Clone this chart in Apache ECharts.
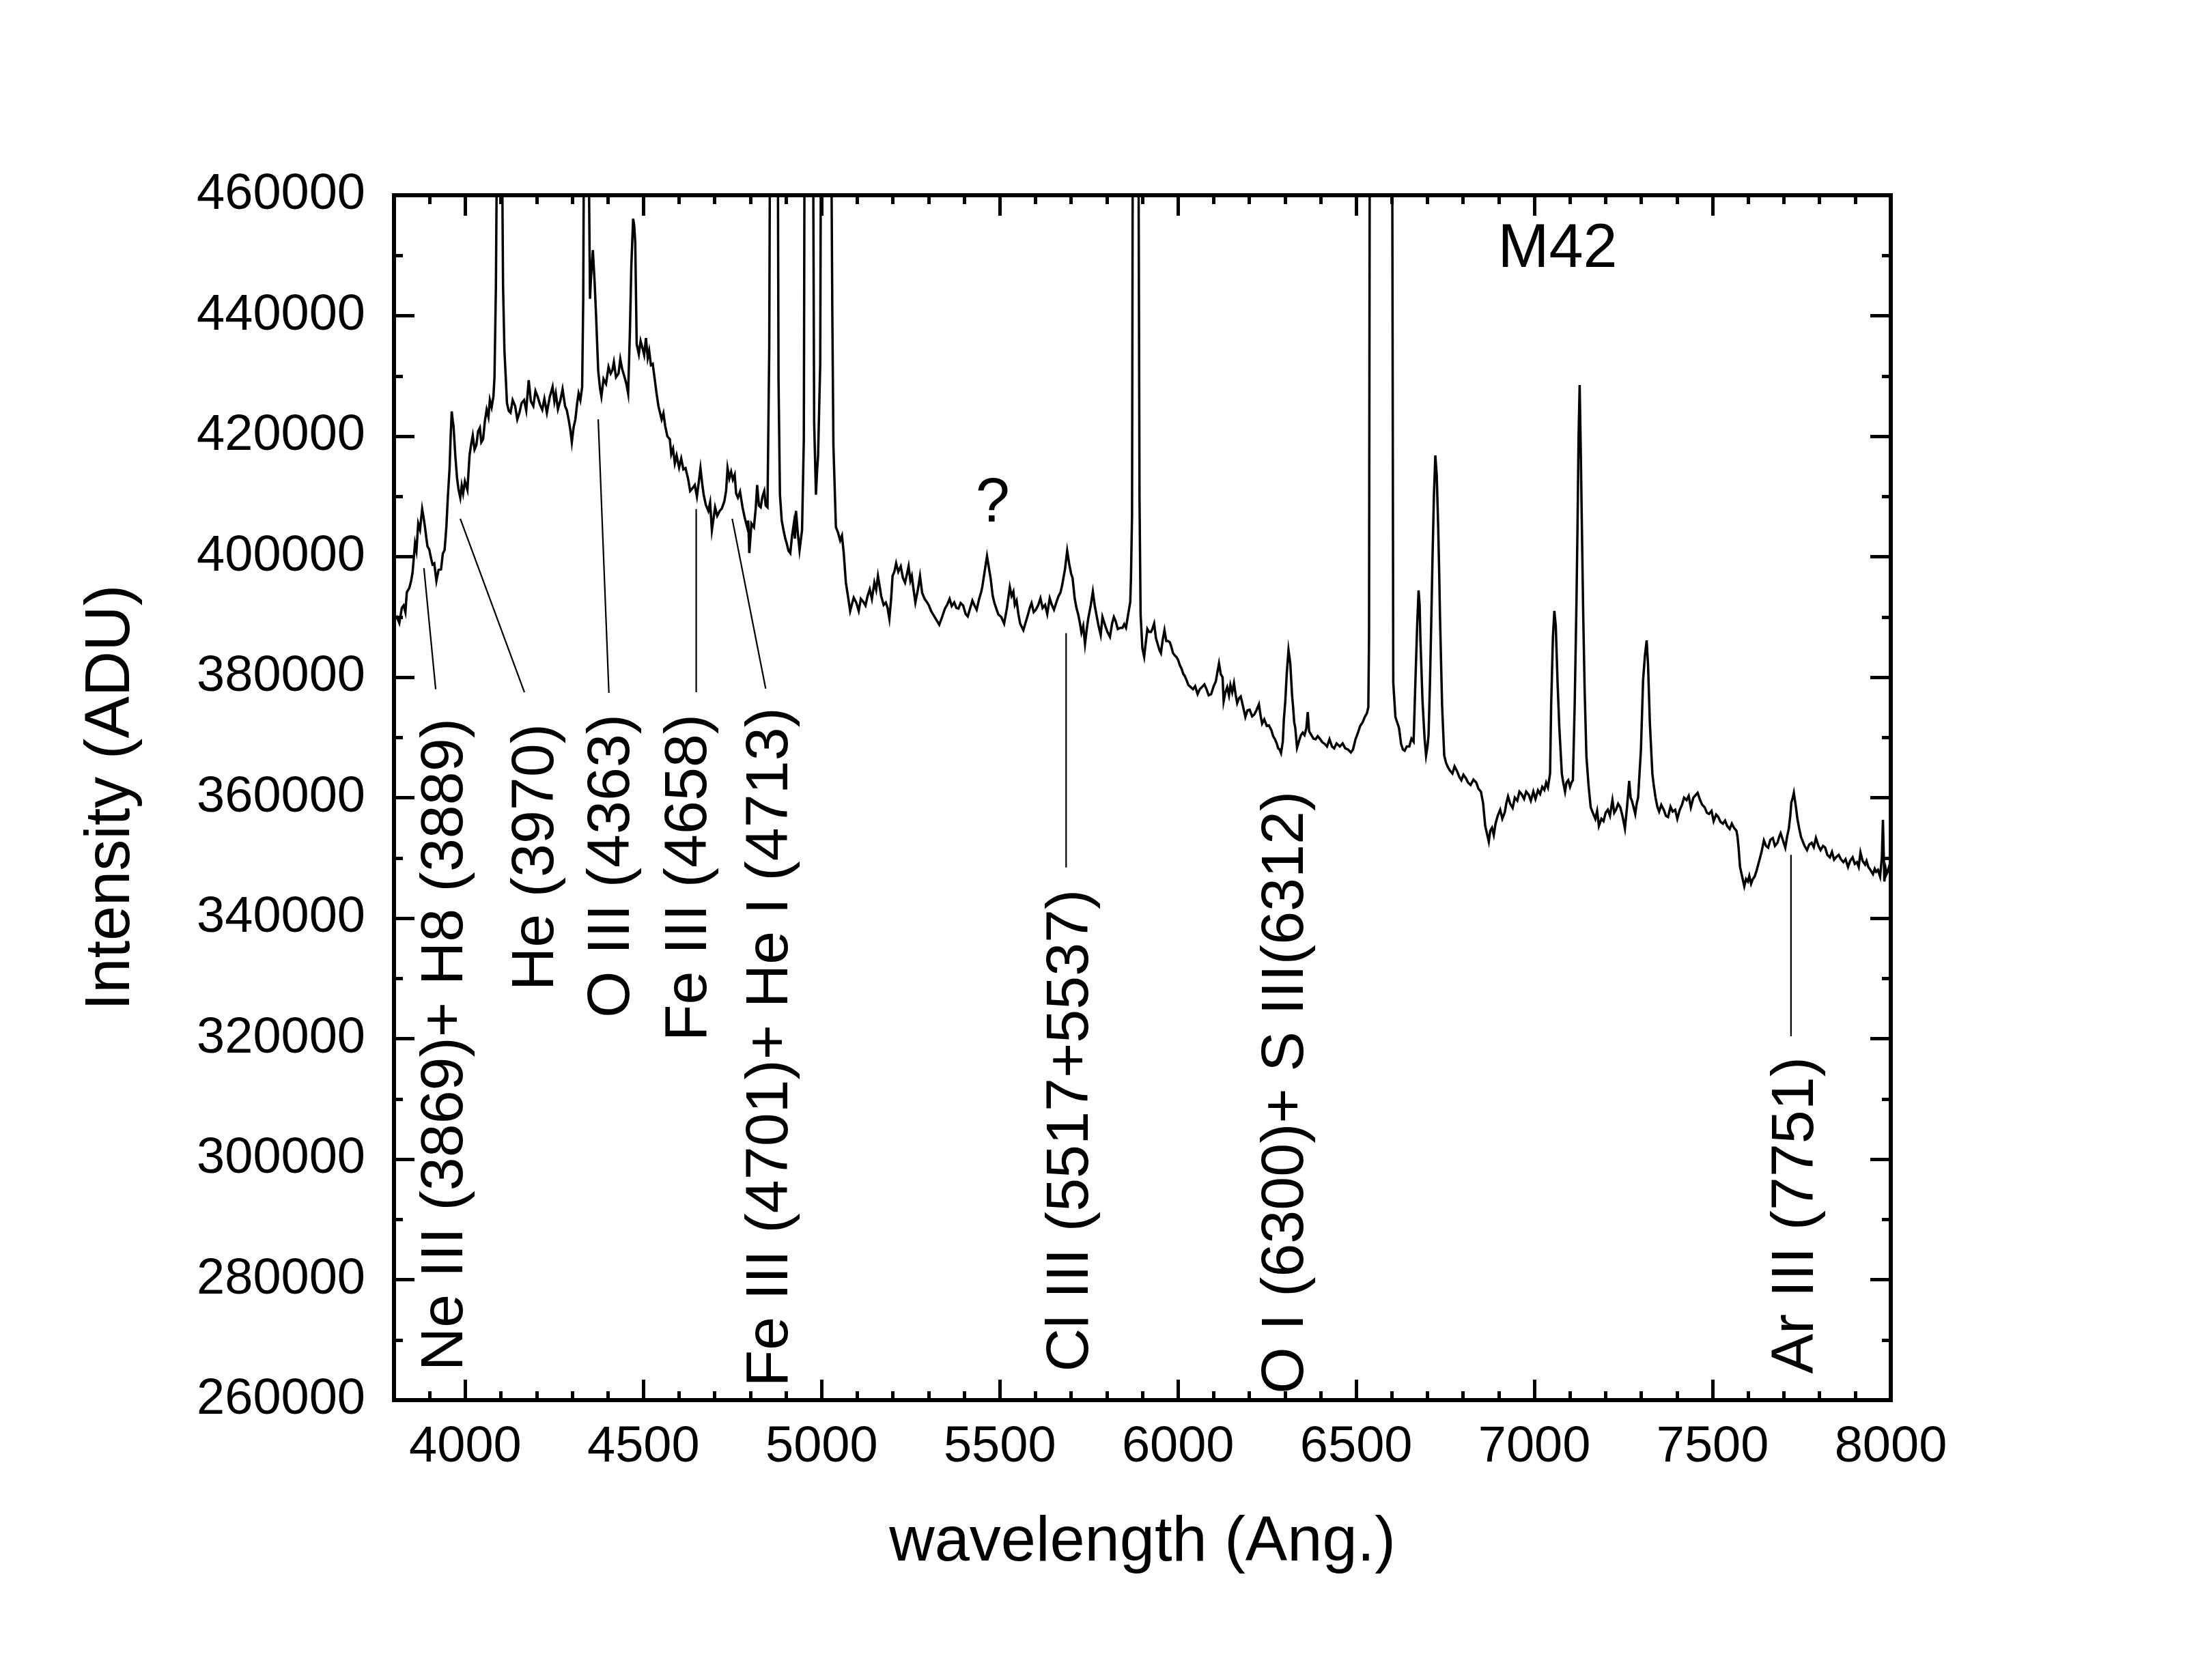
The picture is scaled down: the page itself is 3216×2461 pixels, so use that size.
<!DOCTYPE html>
<html>
<head>
<meta charset="utf-8">
<script src="https://cdn.jsdelivr.net/npm/echarts@6/dist/echarts.min.js"></script>
<style>
html,body{margin:0;padding:0;background:#fff;}
#chart{width:3216px;height:2461px;}
</style>
</head>
<body>
<div id="chart"></div>
<script>
// ---------- DATA ----------
const wavelength = [
3800,3808,3815,3822,3827,3832,3836,3843,3848,3852,3859,3863,3868,3873,3879,3883,3887,3891,3894,3899,
3903,3908,3913,3919,3925,3932,3937,3942,3947,3951,3956,3959,3962,3965,3967,3972,3977,3981,3986,3990,
3994,3999,4006,4012,4016,4021,4026,4031,4036,4041,4045,4050,4055,4060,4065,4069,4074,4079,4082,4086,
4089,4096,4103,4106,4110,4114,4117,4122,4127,4133,4140,4146,4152,4158,4165,4171,4178,4184,4191,4197,
4203,4210,4216,4222,4229,4237,4245,4250,4254,4260,4267,4273,4280,4285,4290,4295,4299,4304,4309,4314,
4318,4323,4328,4331,4333,4340,4346,4350,4353,4358,4363,4367,4373,4378,4382,4388,4395,4402,4408,4413,
4417,4423,4430,4435,4440,4446,4452,4457,4462,4466,4471,4474,4477,4481,4487,4492,4497,4502,4507,4512,
4516,4521,4526,4532,4537,4542,4546,4551,4556,4561,4567,4574,4578,4583,4588,4593,4600,4606,4612,4618,
4625,4631,4638,4644,4650,4655,4660,4665,4669,4675,4682,4687,4692,4697,4701,4707,4714,4720,4727,4732,
4736,4741,4746,4751,4756,4760,4765,4771,4778,4784,4791,4794,4797,4803,4810,4815,4819,4824,4829,4834,
4839,4843,4848,4853,4855,4866,4877,4879,4883,4888,4893,4898,4902,4907,4912,4917,4922,4925,4928,4933,
4938,4942,4945,4950,4952,4964,4976,4979,4984,4987,4990,4996,4998,5012,5027,5030,5033,5040,5046,5052,
5057,5062,5068,5075,5080,5084,5090,5097,5104,5110,5117,5123,5129,5135,5141,5148,5153,5158,5163,5167,
5174,5180,5185,5190,5195,5199,5204,5209,5215,5222,5228,5234,5239,5244,5249,5253,5258,5263,5270,5276,
5282,5289,5295,5301,5307,5314,5322,5330,5338,5346,5352,5359,5365,5372,5378,5384,5390,5397,5404,5410,
5417,5423,5429,5435,5442,5448,5451,5458,5464,5470,5474,5480,5485,5490,5496,5504,5512,5520,5528,5533,
5538,5542,5547,5552,5557,5566,5572,5579,5584,5589,5595,5601,5608,5614,5620,5627,5633,5640,5646,5652,
5659,5665,5670,5675,5683,5689,5695,5700,5704,5710,5715,5720,5725,5729,5734,5739,5744,5748,5755,5761,
5766,5771,5777,5783,5788,5796,5802,5809,5815,5820,5825,5831,5838,5844,5849,5854,5860,5866,5868,5871,
5873,5881,5889,5892,5895,5900,5905,5910,5914,5919,5924,5928,5933,5938,5943,5948,5952,5957,5962,5967,
5972,5977,5981,5986,5991,5996,6000,6005,6010,6015,6019,6024,6029,6035,6042,6048,6055,6061,6067,6074,
6080,6086,6093,6100,6106,6111,6115,6120,6125,6128,6133,6138,6143,6147,6152,6157,6162,6166,6171,6176,
6183,6189,6195,6201,6208,6214,6220,6227,6232,6236,6242,6249,6255,6262,6267,6272,6277,6281,6285,6289,
6294,6297,6301,6305,6310,6315,6320,6323,6326,6329,6334,6340,6345,6350,6355,6360,6364,6368,6374,6380,
6386,6392,6399,6405,6412,6418,6425,6432,6438,6445,6454,6462,6469,6477,6485,6491,6498,6505,6511,6518,
6524,6530,6534,6536,6538,6565,6601,6604,6610,6615,6620,6626,6631,6636,6642,6649,6655,6661,6666,6671,
6675,6678,6680,6686,6692,6696,6700,6703,6707,6711,6714,6718,6722,6726,6730,6733,6735,6741,6747,6752,
6757,6763,6770,6776,6783,6789,6795,6801,6808,6814,6821,6829,6837,6843,6850,6856,6862,6867,6872,6876,
6881,6886,6891,6897,6904,6910,6917,6921,6926,6932,6939,6945,6952,6958,6964,6971,6977,6984,6990,6997,
7003,7010,7016,7022,7028,7033,7038,7044,7047,7052,7056,7060,7065,7070,7077,7081,7086,7090,7095,7100,
7104,7108,7113,7118,7121,7124,7127,7130,7134,7137,7141,7146,7152,7158,7164,7171,7176,7181,7188,7194,
7200,7206,7212,7219,7224,7229,7235,7241,7247,7254,7260,7266,7270,7273,7278,7283,7287,7291,7295,7299,
7305,7310,7315,7319,7324,7331,7335,7340,7345,7350,7356,7363,7369,7375,7382,7388,7395,7401,7408,7414,
7420,7427,7433,7439,7446,7452,7458,7465,7471,7478,7484,7490,7497,7503,7510,7516,7522,7529,7535,7541,
7548,7554,7560,7567,7570,7573,7577,7583,7589,7594,7599,7603,7608,7613,7618,7623,7628,7633,7637,7644,
7650,7656,7662,7669,7675,7682,7687,7691,7697,7704,7709,7714,7718,7721,7725,7728,7734,7738,7743,7748,
7752,7758,7765,7771,7778,7784,7790,7797,7803,7810,7816,7822,7829,7835,7841,7848,7854,7860,7867,7873,
7880,7886,7893,7899,7905,7910,7915,7921,7928,7932,7937,7943,7950,7955,7959,7964,7970,7975,7978,7980,
7982,7986,7988,7991,7995,8000
];
const intensity = [
389500,390000,389000,391500,391900,390800,394100,394800,396000,397300,402200,401000,405500,404500,407900,406500,404900,403000,401700,401200,
400000,398700,398900,396000,397800,397900,400500,401100,405000,409800,414700,420000,424100,422500,421700,416800,413000,411200,409800,411800,
410500,412500,411100,416800,418500,420100,417800,418500,420800,421400,419000,419500,422500,424400,423200,426000,424800,426600,429800,445000,
470000,495000,470000,445000,434000,429300,425500,424200,423900,426000,425000,422800,423900,425500,426000,424300,429300,425800,425000,427500,
426600,425200,424400,426200,423900,426500,428200,425800,427100,424500,426000,427800,425000,424300,422800,421000,419000,421500,422800,425500,
427100,426000,428200,442800,470000,520000,470000,442800,446600,450900,445500,440100,430900,428000,426600,429500,428700,431500,430400,431000,
432300,429800,430400,432800,431200,430000,428700,427100,437400,448300,456100,455000,452100,435300,433600,435800,434700,433500,436300,433000,
434200,431800,432000,429300,427000,425000,424000,422800,423800,421700,420000,419500,417000,417900,415500,416800,414800,416300,414500,414700,
413000,410900,411400,411900,410000,412300,414700,412000,410300,408600,407600,409000,404400,406500,408200,406800,407600,408000,409200,411000,
414700,413000,414100,412800,413600,410500,409800,410800,408200,406500,404900,406000,400600,405500,404900,408000,411900,408500,408200,410000,
410900,408500,408200,434700,470000,700000,470000,429300,410300,406000,404400,403000,402200,401000,400600,403500,405500,403000,407600,404000,
401100,403000,404400,419500,470000,900000,470000,422200,410300,414000,416800,432000,470000,1500000,470000,440100,418500,404900,404000,402700,
403500,400600,395700,393000,391000,391900,393200,392400,391000,393000,392500,391900,393500,394600,393000,395700,394500,396800,395000,393500,
392000,392400,391500,389700,393000,396800,397500,398900,397500,398400,396500,395700,397000,398400,396000,396800,394500,392400,394500,396800,
394000,393000,392500,391900,391000,390300,389500,388700,390000,391400,392000,393000,391800,392400,391500,391400,392300,391900,390500,390100,
391500,392700,391900,391200,393000,394200,395100,397800,400100,397900,396500,393500,392300,391400,390400,390000,388900,391500,394960,393500,
394200,392000,392700,390500,388900,387800,389000,390400,391500,392300,390800,391200,392000,393100,391500,392000,390500,393100,392000,391200,
392500,393500,394000,395300,398000,401000,398700,397200,396500,393100,391500,390400,388900,387400,388500,385500,388000,389700,391900,394200,
392000,390400,388500,387000,390000,388500,387500,386700,388900,390000,389300,388000,388200,388200,388800,388200,390400,392500,396500,407000,
470000,800000,470000,409300,390400,384800,383400,386000,388000,387500,387500,388000,388900,386500,385500,384500,384000,386200,387800,386000,
386000,385800,385100,384000,383600,383300,382900,382000,381400,380500,380200,379500,378700,378400,378000,378500,377200,378000,378350,378800,
378000,377000,377200,378500,379300,381000,382300,380500,380000,376000,377500,378350,377000,378700,377500,379000,377000,375700,376500,376800,
375000,373400,374500,374600,373500,373800,374500,375500,373500,372300,373000,371900,372000,371200,370200,369700,369000,368200,368000,367400,
369300,373000,376000,380500,384500,382300,377000,375000,372500,371600,368300,369500,370400,370800,370400,371500,374200,371000,370400,369800,
369700,370200,369700,369200,368900,368500,369700,368500,368200,369000,368500,369000,368200,368000,367500,368000,369700,370800,371900,372500,
373400,374000,375000,386700,470000,2500000,470000,379100,373400,372500,371600,368900,368000,367800,368500,368500,369800,369300,379100,388500,
394400,392000,386700,376100,369700,367000,368500,370400,379100,390400,399500,410000,416800,413500,405000,397000,390400,375300,367000,365800,
365100,364500,364000,365200,364400,363500,362900,363800,363200,362500,362100,363000,362500,361500,361000,359100,355300,354000,352700,354500,
355000,353800,355700,357000,358000,356500,357600,359000,360200,359000,358300,360000,359500,361000,360600,359800,361000,360500,359500,361000,
359800,361200,360600,361800,361300,362500,361700,364000,375300,386700,391000,388500,379100,371600,364000,362500,361000,362500,362900,361800,
362500,362900,375300,392300,405000,420000,428500,418000,402000,390400,377900,366800,362000,358400,357500,356500,357800,355300,356500,356100,
357500,358000,357000,359600,357500,358000,359000,358400,357000,354900,358500,362800,360000,359600,358500,357300,359000,360000,364000,368000,
379500,383500,386100,381900,372400,364000,362000,360000,358500,357700,358800,358000,357000,356800,358500,357700,358000,356500,358000,358800,
360000,359600,360300,358400,360000,360400,360800,359600,358800,358400,357500,357300,357800,356100,357200,356800,356000,355700,356200,355300,
354800,355700,355000,354500,353500,351700,348500,346900,345300,346500,346100,347000,345700,346500,346900,347800,348900,350000,350900,352900,
352000,351700,353000,353300,352000,352500,353500,354100,353000,351700,353500,354900,357000,359200,360000,360800,358400,356500,354900,353500,
352900,352000,351300,352200,352500,351800,353300,352000,351300,352000,351700,350500,350100,351000,349700,350200,350500,349800,349300,349800,
348500,349500,350100,349000,349300,348500,350900,349500,348900,349500,348500,348000,347300,348200,347700,348000,346900,350100,356300,356300,
346100,348000,347300,347700,348500,347500
];

// tick values
const xMajorTicks = [4000, 4500, 5000, 5500, 6000, 6500, 7000, 7500, 8000];
const yMin = 260000, yMax = 460000, yStep = 20000;
const xMin = 3800, xMax = 8000, xMinorStep = 100;

// line annotations (text, wavelength of text, intensity at text top end)
const annotationTexts = ['Ne III (3869)+ H8 (3889)', 'He (3970)', 'O III (4363)', 'Fe III (4658)',
  'Fe III (4701)+ He I (4713)', 'Cl III (5517+5537)', 'O I (6300)+ S III(6312)', 'Ar III (7751)'];
const annotationX = [3945, 4200, 4413, 4629, 4857, 5701, 6303, 7735];
const annotationTop = [373200, 372300, 373900, 373900, 375000, 344800, 361100, 317000];

// connector lines [x1, y1, x2, y2] in data units
const connectors = [
  [3884, 398100, 3917, 378000],
  [3986, 406300, 4166, 377500],
  [4373, 422800, 4403, 377400],
  [4648, 407900, 4648, 377500],
  [4749, 406300, 4843, 378100],
  [5686, 387300, 5686, 348400],
  [7720, 350500, 7720, 320400]
];

// plain labels
const plainTexts = ['?', 'M42'];
const plainX = [5480, 7065];
const plainY = [408600, 450900];

// ---------- CHART ----------
const FONT = '"Liberation Sans", Arial, sans-serif';
const chart = echarts.init(document.getElementById('chart'), null, {renderer: 'canvas'});

const axisLineStyle = {color: '#000', width: 6, cap: 'square'};
const tickStyle = {color: '#000', width: 5};

function xAxisBase(pos) {
  return {
    type: 'value', position: pos, min: xMin, max: xMax, interval: xMinorStep,
    splitLine: {show: false}, axisLine: {show: true, onZero: false, lineStyle: axisLineStyle}
  };
}

const option = {
  animation: false,
  backgroundColor: '#fff',
  grid: {left: 577, top: 286, width: 2192, height: 1765, containLabel: false, outerBoundsMode: 'none'},
  xAxis: [
    Object.assign(xAxisBase('bottom'), {
      axisTick: {show: true, inside: true, length: 13, lineStyle: tickStyle},
      axisLabel: {show: true, fontSize: 74, color: '#000', fontFamily: FONT, margin: 33,
        formatter: v => (v % 500 === 0 ? String(v) : '')},
      name: 'wavelength (Ang.)', nameLocation: 'middle', nameGap: 164, nameMoveOverlap: false,
      nameTextStyle: {fontSize: 92, color: '#000', fontFamily: FONT}
    }),
    Object.assign(xAxisBase('bottom'), {
      axisLine: {show: false, onZero: false},
      axisTick: {show: true, inside: true, length: 30, lineStyle: tickStyle, customValues: xMajorTicks},
      axisLabel: {show: false}
    }),
    Object.assign(xAxisBase('top'), {
      axisTick: {show: true, inside: true, length: 13, lineStyle: tickStyle},
      axisLabel: {show: false}
    }),
    Object.assign(xAxisBase('top'), {
      axisLine: {show: false, onZero: false},
      axisTick: {show: true, inside: true, length: 30, lineStyle: tickStyle, customValues: xMajorTicks},
      axisLabel: {show: false}
    })
  ],
  yAxis: [
    {
      type: 'value', position: 'left', min: yMin, max: yMax, interval: yStep,
      splitLine: {show: false},
      axisLine: {show: true, onZero: false, lineStyle: axisLineStyle},
      axisTick: {show: true, inside: true, length: 30, lineStyle: tickStyle},
      minorTick: {show: true, splitNumber: 2, length: 13, lineStyle: tickStyle},
      minorSplitLine: {show: false},
      axisLabel: {show: true, fontSize: 74, color: '#000', fontFamily: FONT, margin: 42,
        formatter: v => String(v)},
      name: 'Intensity (ADU)', nameLocation: 'middle', nameGap: 367, nameMoveOverlap: false,
      nameTextStyle: {fontSize: 92, color: '#000', fontFamily: FONT}
    },
    {
      type: 'value', position: 'right', min: yMin, max: yMax, interval: yStep,
      splitLine: {show: false},
      axisLine: {show: true, onZero: false, lineStyle: axisLineStyle},
      axisTick: {show: true, inside: true, length: 30, lineStyle: tickStyle},
      minorTick: {show: true, splitNumber: 2, length: 13, lineStyle: tickStyle},
      axisLabel: {show: false}
    }
  ],
  series: [
    {
      type: 'line', xAxisIndex: 0, yAxisIndex: 0,
      data: wavelength.map((w, i) => [w, intensity[i]]),
      showSymbol: false, symbol: 'none', clip: true,
      lineStyle: {color: '#000', width: 3.5, join: 'miter'},
      z: 3
    },
    {
      type: 'custom', xAxisIndex: 0, yAxisIndex: 0,
      data: connectors,
      renderItem: function (params, api) {
        const p1 = api.coord([api.value(0), api.value(1)]);
        const p2 = api.coord([api.value(2), api.value(3)]);
        return {type: 'line', shape: {x1: p1[0], y1: p1[1], x2: p2[0], y2: p2[1]},
          style: {stroke: '#000', lineWidth: 2.2}};
      },
      z: 4
    },
    {
      type: 'custom', xAxisIndex: 0, yAxisIndex: 0,
      data: annotationX.map((x, i) => [x, annotationTop[i]]),
      renderItem: function (params, api) {
        const p = api.coord([api.value(0), api.value(1)]);
        return {type: 'text', x: p[0], y: p[1], rotation: Math.PI / 2,
          style: {text: annotationTexts[params.dataIndex], font: '88px ' + FONT, fill: '#000',
            align: 'right', verticalAlign: 'middle'}};
      },
      z: 4
    },
    {
      type: 'custom', xAxisIndex: 0, yAxisIndex: 0,
      data: plainX.map((x, i) => [x, plainY[i]]),
      renderItem: function (params, api) {
        const p = api.coord([api.value(0), api.value(1)]);
        return {type: 'text', x: p[0], y: p[1],
          style: {text: plainTexts[params.dataIndex], font: '90px ' + FONT, fill: '#000',
            align: 'center', verticalAlign: 'middle'}};
      },
      z: 4
    }
  ]
};
chart.setOption(option);
</script>
</body>
</html>
